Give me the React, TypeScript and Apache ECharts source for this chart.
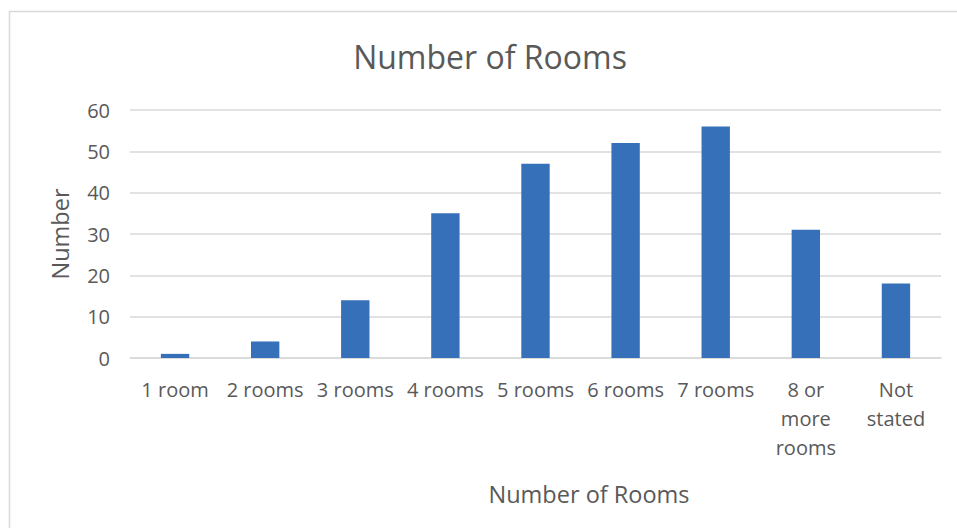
import React, { useEffect, useRef } from "react";
import * as echarts from "echarts";

const categories = ["1 room", "2 rooms", "3 rooms", "4 rooms", "5 rooms", "6 rooms", "7 rooms", "8 or more rooms", "Not stated"];
const values = [1, 4, 14, 35, 47, 52, 56, 31, 18];
const wrapped: Record<string, string> = { "8 or more rooms": "8 or\nmore\nrooms", "Not stated": "Not\nstated" };

const FONT = "Open Sans";
const TXT = "#595959";

export default function App() {
  const ref = useRef<HTMLDivElement>(null);
  useEffect(() => {
    if (!ref.current) return;
    const chart = echarts.init(ref.current, undefined, { renderer: "svg" });
    chart.setOption({
      animation: false,
      backgroundColor: "#ffffff",
      textStyle: { fontFamily: FONT },
      grid: { left: 130, right: 16, top: 110, bottom: 170 },
      xAxis: {
        type: "category",
        data: categories,
        axisLine: { lineStyle: { color: "#d9d9d9", width: 1.5 } },
        axisTick: { show: false },
        axisLabel: {
          interval: 0,
          color: TXT,
          fontFamily: FONT,
          fontSize: 20,
          lineHeight: 29,
          margin: 17,
          formatter: (v: string) => wrapped[v] || v,
        },
      },
      yAxis: {
        type: "value",
        min: 0,
        max: 60,
        interval: 10,
        name: "Number",
        nameLocation: "middle",
        nameGap: 58,
        nameRotate: 90,
        nameTextStyle: { color: TXT, fontFamily: FONT, fontSize: 23.5 },
        axisLine: { show: false },
        axisTick: { show: false },
        splitLine: { lineStyle: { color: "#d9d9d9", width: 1.5 } },
        axisLabel: { color: TXT, fontFamily: FONT, fontSize: 20, margin: 20 },
      },
      series: [
        {
          type: "bar",
          data: values,
          barWidth: "31.5%",
          itemStyle: { color: "#3670b9" },
        },
      ],
      graphic: [
        {
          type: "rect",
          shape: { x: 9.5, y: 11.5, width: 1000, height: 600 },
          style: { fill: "none", stroke: "#d9d9d9", lineWidth: 1.5 },
          silent: true,
          z: -1,
        },
        {
          type: "text",
          x: 490,
          y: 56,
          style: {
            text: "Number of Rooms",
            fill: TXT,
            font: `32px '${FONT}'`,
            textAlign: "center",
            textVerticalAlign: "middle",
          },
        },
        {
          type: "text",
          x: 589,
          y: 494,
          style: {
            text: "Number of Rooms",
            fill: TXT,
            font: `23.5px '${FONT}'`,
            textAlign: "center",
            textVerticalAlign: "middle",
          },
        },
      ],
    });
    return () => chart.dispose();
  }, []);
  return <div ref={ref} style={{ position: "fixed", left: 0, top: 0, width: 957, height: 528 }} />;
}
